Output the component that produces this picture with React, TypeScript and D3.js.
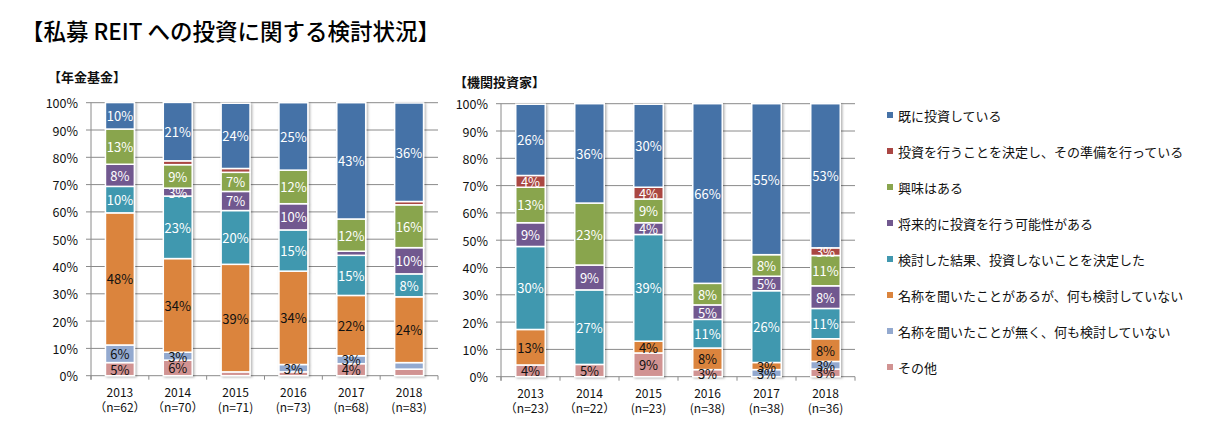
import React from 'react';
import * as d3 from 'd3';

const years = ['2013', '2014', '2015', '2016', '2017', '2018'];
const pensionN = ['（n=62）', '（n=70）', '(n=71)', '(n=73)', '(n=68)', '(n=83)'];
const instN = ['（n=23）', '（n=22）', '(n=23)', '(n=38)', '(n=38)', '(n=36)'];
const yTicks = [0, 10, 20, 30, 40, 50, 60, 70, 80, 90, 100];

// series, bottom to top
const seriesNames = [
  'その他',
  '名称を聞いたことが無く、何も検討していない',
  '名称を聞いたことがあるが、何も検討していない',
  '検討した結果、投資しないことを決定した',
  '将来的に投資を行う可能性がある',
  '興味はある',
  '投資を行うことを決定し、その準備を行っている',
  '既に投資している',
];
const seriesColors = ['#d19392', '#93a9cf', '#db843d', '#4198af', '#71588f', '#89a54e', '#aa4643', '#4572a7'];
const labelDark = [true, true, true, false, false, false, false, false];

// 年金基金 (%)
const pOther = [4.8, 5.7, 1.4, 1.4, 4.4, 2.4];
const pNotHeard = [6.45, 2.9, 0, 2.7, 2.9, 2.4];
const pHeard = [48.4, 34.3, 39.4, 34.2, 22.1, 24.1];
const pDecidedNot = [9.7, 22.9, 19.7, 15.1, 14.7, 8.4];
const pFuture = [8.1, 2.9, 7.0, 9.6, 1.5, 9.6];
const pInterest = [12.9, 8.6, 7.0, 12.3, 11.8, 15.7];
const pPrep = [0, 1.4, 1.4, 0, 0, 1.2];
const pAlready = [9.7, 21.4, 23.9, 24.7, 42.6, 36.1];

// 機関投資家 (%)
const iOther = [4.3, 4.5, 8.7, 2.6, 0, 2.8];
const iNotHeard = [0, 0, 0, 0, 2.6, 2.8];
const iHeard = [13.0, 0, 4.3, 7.9, 2.6, 8.3];
const iDecidedNot = [30.4, 27.3, 39.1, 10.5, 26.3, 11.1];
const iFuture = [8.7, 9.1, 4.3, 5.3, 5.3, 8.3];
const iInterest = [13.0, 22.7, 8.7, 7.9, 7.9, 11.1];
const iPrep = [4.3, 0, 4.3, 0, 0, 2.8];
const iAlready = [26.1, 36.4, 30.4, 65.8, 55.3, 52.8];

const pensionSeries = [pOther, pNotHeard, pHeard, pDecidedNot, pFuture, pInterest, pPrep, pAlready];
const instSeries = [iOther, iNotHeard, iHeard, iDecidedNot, iFuture, iInterest, iPrep, iAlready];

const FONT = '"Noto Sans CJK JP", "Noto Sans", sans-serif';

type ChartProps = {
  x0: number; x1: number; yTop: number; yBottom: number;
  series: number[][]; nLabels: string[];
  title: string; titleX: number; titleY: number;
};

function Chart({ x0, x1, yTop, yBottom, series, nLabels, title, titleX, titleY }: ChartProps) {
  const x = d3.scaleBand<string>().domain(years).range([x0, x1]).paddingInner(0.5).paddingOuter(0.25);
  const y = d3.scaleLinear().domain([0, 100]).range([yBottom, yTop]);
  const rows = years.map((yr, i) => {
    const r: any = { year: yr };
    series.forEach((s, k) => { r['s' + k] = s[i]; });
    return r;
  });
  const stack = d3.stack<any>().keys(series.map((_, k) => 's' + k));
  const stacked = stack(rows);
  const step = x.step();
  return (
    <g>
      <text x={titleX} y={titleY} fontSize={13} fontWeight="bold" fontFamily={FONT} dominantBaseline="central" fill="#111">{title}</text>
      {yTicks.map(t => (
        <g key={t}>
          <line x1={x0 - 5} x2={x1} y1={y(t)} y2={y(t)} stroke="#8a8a8a" strokeWidth={1} />
          <text x={x0 - 13} y={y(t)} textAnchor="end" dominantBaseline="central" fontSize={12.5} fontFamily={FONT} fill="#111">{t}%</text>
        </g>
      ))}
      <line x1={x0} x2={x0} y1={yTop} y2={yBottom + 4} stroke="#8a8a8a" />
      {d3.range(years.length + 1).map(i => (
        <line key={i} x1={x0 + i * step} x2={x0 + i * step} y1={yBottom} y2={yBottom + 4} stroke="#8a8a8a" />
      ))}
      <g filter="url(#shadow)">
        {stacked.map((layer, k) => layer.map((d, i) => {
          const h = y(d[0]) - y(d[1]);
          if (h <= 0.01) return null;
          return (
            <rect key={k + '-' + i} x={x(years[i])} width={x.bandwidth()} y={y(d[1])} height={h}
              fill={seriesColors[k]} stroke="#fff" strokeWidth={1.5} />
          );
        }))}
      </g>
      {stacked.map((layer, k) => layer.map((d, i) => {
        const v = series[k][i];
        if (Math.round(v) < 3) return null;
        return (
          <text key={'l' + k + '-' + i} x={(x(years[i]) as number) + x.bandwidth() / 2} y={y((d[0] + d[1]) / 2)}
            textAnchor="middle" dominantBaseline="central" fontSize={13} fontFamily={FONT}
            fill={labelDark[k] ? '#111' : '#fff'}>{Math.round(v)}%</text>
        );
      }))}
      {years.map((yr, i) => (
        <g key={yr}>
          <text x={(x(yr) as number) + x.bandwidth() / 2} y={yBottom + 16} textAnchor="middle" dominantBaseline="central" fontSize={12} fontFamily={FONT} fill="#111">{yr}</text>
          <text x={(x(yr) as number) + x.bandwidth() / 2} y={yBottom + 31} textAnchor="middle" dominantBaseline="central" fontSize={12} fontFamily={FONT} fill="#111">{nLabels[i]}</text>
        </g>
      ))}
    </g>
  );
}

export default function App() {
  const legendOrder = d3.range(seriesNames.length).reverse();
  return (
    <svg width={1214} height={435} style={{ position: 'absolute', left: 0, top: 0, background: '#fff' }}>
      <defs>
        <filter id="shadow" x="-20%" y="-5%" width="140%" height="110%">
          <feDropShadow dx={1.5} dy={1} stdDeviation={1} floodColor="#000" floodOpacity={0.3} />
        </filter>
      </defs>
      <rect width={1214} height={435} fill="#fff" />
      <text x={21} y={30} fontSize={22.5} fontFamily={FONT} fontWeight={500} dominantBaseline="central" fill="#000">【私募 REIT への投資に関する検討状況】</text>
      <Chart x0={91} x1={438} yTop={102.7} yBottom={375.7} series={pensionSeries} nLabels={pensionN}
        title="【年金基金】" titleX={48} titleY={76.7} />
      <Chart x0={501} x1={855} yTop={103.7} yBottom={376.7} series={instSeries} nLabels={instN}
        title="【機関投資家】" titleX={454} titleY={81.7} />
      {legendOrder.map((k, j) => (
        <g key={k}>
          <rect x={887} y={115 + j * 36 - 3} width={6} height={6} fill={seriesColors[k]} />
          <text x={898} y={115 + j * 36} dominantBaseline="central" fontSize={13} fontFamily={FONT} fill="#111">{seriesNames[k]}</text>
        </g>
      ))}
    </svg>
  );
}
